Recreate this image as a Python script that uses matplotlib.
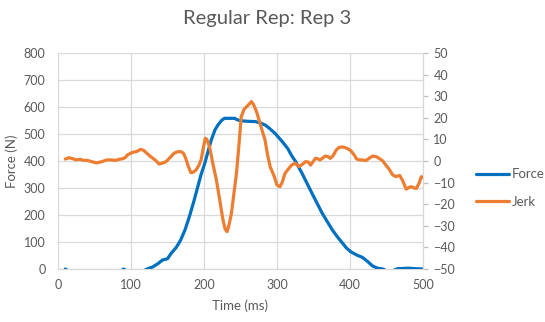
import matplotlib
matplotlib.use("Agg")
import matplotlib.pyplot as plt

plt.rcParams['font.family'] = ['Lato', 'DejaVu Sans']

TEXT = '#595959'
GRID = '#D9D9D9'
BLUE = '#0070C0'
ORANGE = '#ED7D31'

title = "Regular Rep: Rep 3"

force_t = [10, 15, 85, 90, 95, 115, 122, 130, 137, 143, 150, 155, 162, 168, 174,
           180, 186, 191.5, 196, 201, 205, 210, 215, 219, 224, 228, 235, 242, 246,
           251, 260, 270, 277, 284, 290, 297, 303, 309, 315, 320, 325, 334, 341,
           348, 355, 362, 369, 376, 383, 390, 395, 401, 409, 417, 424, 431, 438,
           445, 452, 460, 465, 480, 490, 500]
force_n = [0, -10, -10, 0, -10, -10, 0, 8, 20, 33, 38, 58, 80, 107, 145,
           194, 250, 305, 350, 391, 430, 478, 515, 533, 550, 558, 558, 558, 552,
           549, 547, 546, 541, 533, 520, 503, 485, 466, 445, 420, 400, 356, 318,
           280, 243, 206, 175, 144, 118, 95, 78, 64, 52, 43, 28, 11, 3,
           0, -10, -5, 1, 3, 1, 0]

jerk_t = [10, 15, 19, 25, 30, 35, 40, 46, 53, 60, 67, 73, 79, 84, 88, 92, 95,
          102, 108, 113, 117, 122, 127, 133, 138.5, 143, 148, 154, 159, 164,
          168.5, 172, 175, 178, 182, 185, 189, 193, 196, 199, 201.7, 204, 207.6,
          212, 217, 222, 226, 229, 231.6, 234, 237.6, 241, 244.5, 248, 251, 255,
          260.6, 265, 268, 272, 278, 283.6, 287, 290.6, 296, 300, 304, 307, 311,
          316, 320, 325, 330, 335, 339, 343, 346, 350, 352.6, 356, 359, 363, 366,
          370, 373, 377, 381, 385, 390, 396, 401, 405.7, 409, 412.6, 417, 421.7,
          426, 431, 436, 440, 445, 449, 453, 458.6, 463, 468, 472, 477, 481, 484,
          488, 491, 495, 497.6, 500]
jerk_v = [0.9, 1.5, 1.2, 0.5, 0.8, 0.3, 0.3, -0.3, -0.9, -0.3, 0.5, 0.5, 0.3,
          0.8, 1.0, 1.5, 2.8, 4.0, 4.4, 5.4, 5.0, 3.5, 2.0, 0.5, -1.4, -1.0,
          -0.3, 1.8, 3.6, 4.3, 4.3, 3.5, 1.2, -2.0, -5.4, -5.2, -4.2, -2.0, 0.5,
          6.0, 10.5, 10.0, 6.6, -1.0, -8.8, -19.0, -27.3, -31.5, -32.7, -30.0,
          -24.2, -15.0, -5.7, 8.0, 20.5, 24.0, 25.9, 27.5, 26.0, 22.8, 16.0, 9.7,
          3.0, -2.6, -7.0, -11.1, -11.9, -10.0, -5.7, -3.5, -1.9, -1.0, -2.6,
          -1.5, -0.3, -0.5, -1.9, 0.0, 1.2, 1.0, 0.5, 1.5, 2.3, 2.0, 1.2, 2.5,
          5.0, 6.3, 6.5, 5.9, 4.8, 2.8, 1.0, 0.5, 0.5, 0.2, 1.2, 2.3, 2.0, 1.2,
          0.0, -1.9, -3.5, -6.5, -7.2, -6.7, -9.0, -13.0, -12.2, -11.9, -12.5,
          -12.7, -10.0, -7.3, -7.5]

x_ticks = [0, 100, 200, 300, 400, 500]
force_ticks = [0, 100, 200, 300, 400, 500, 600, 700, 800]
jerk_ticks = [-50, -40, -30, -20, -10, 0, 10, 20, 30, 40, 50]

fig = plt.figure(figsize=(5.45, 3.22), dpi=100)
ax = fig.add_axes([58 / 545, 1 - 269 / 322, (423 - 58) / 545, (269 - 53) / 322])
ax2 = ax.twinx()

ax.plot(force_t, force_n, color=BLUE, lw=2.3, label='Force', zorder=3,
        solid_joinstyle='round', solid_capstyle='round')
ax2.plot(jerk_t, jerk_v, color=ORANGE, lw=2.3, label='Jerk', zorder=3,
         solid_joinstyle='round', solid_capstyle='round')

ax.set_xlim(0, 500)
ax.set_ylim(0, 800)
ax2.set_ylim(-50, 50)
ax.set_xticks(x_ticks)
ax.set_yticks(force_ticks)
ax2.set_yticks(jerk_ticks)

ax.grid(True, color=GRID, lw=0.9, zorder=0)
ax.set_axisbelow(True)
for a in (ax, ax2):
    for s in a.spines.values():
        s.set_visible(False)
ax.spines['bottom'].set_visible(True)
ax.spines['bottom'].set_color(GRID)
ax.spines['bottom'].set_linewidth(0.9)
ax2.spines['right'].set_visible(True)
ax2.spines['right'].set_color(GRID)
ax2.spines['right'].set_linewidth(0.9)

ax.tick_params(axis='x', length=0, pad=7, labelsize=9, labelcolor=TEXT)
ax.tick_params(axis='y', length=0, pad=9, labelsize=9, labelcolor=TEXT)
ax2.tick_params(axis='y', length=3.5, width=0.9, color='#BFBFBF', pad=4,
                labelsize=9, labelcolor=TEXT)

ax.set_xlabel('Time (ms)', fontsize=9.5, color=TEXT, labelpad=6)
ax.set_ylabel('Force (N)', fontsize=9.5, color=TEXT, labelpad=4)
fig.suptitle(title, fontsize=14.5, color=TEXT, x=0.49, y=0.97)

handles = ax.get_lines() + ax2.get_lines()
fig.legend(handles, [h.get_label() for h in handles], loc='center left',
           bbox_to_anchor=(469 / 545, 1 - 188 / 322), frameon=False,
           fontsize=9.5, handlelength=2.5, handletextpad=0.25,
           labelspacing=1.15, borderpad=0, labelcolor=TEXT)

fig.savefig('out.png', dpi=100)
